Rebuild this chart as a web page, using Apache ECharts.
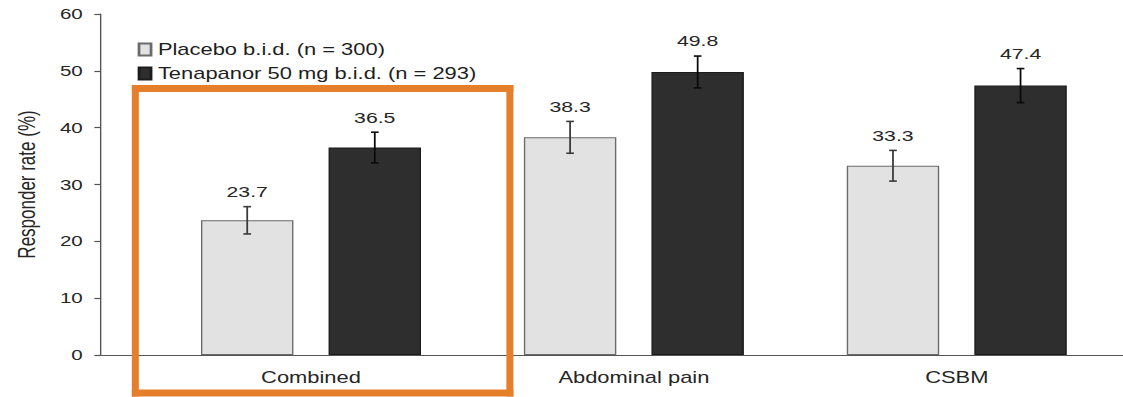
<!DOCTYPE html>
<html>
<head>
<meta charset="utf-8">
<script src="https://cdn.jsdelivr.net/npm/echarts@6/dist/echarts.min.js"></script>
<style>
  html, body { margin: 0; padding: 0; background: #ffffff; overflow: hidden; }
  /* chart is laid out narrower and widened horizontally to the page width */
  #chart { width: 820px; height: 397px; transform: scaleX(1.369512); transform-origin: 0 0; }
</style>
</head>
<body>
<div id="chart"></div>
<script>
// Responder rates (%) with standard errors per endpoint
const categories = ['Combined', 'Abdominal pain', 'CSBM'];
const placeboRate = [23.7, 38.3, 33.3];
const tenapanorRate = [36.5, 49.8, 47.4];
const placeboSE = [2.4, 2.8, 2.7];
const tenapanorSE = [2.7, 2.8, 3.0];
const seriesNames = ['Placebo b.i.d. (n = 300)', 'Tenapanor 50 mg b.i.d. (n = 293)'];
const yMin = 0, yMax = 60, yStep = 10;
const yAxisTitle = 'Responder rate (%)';

const SX = 1123 / 820;          // horizontal stretch of the page
const FONT = '"Liberation Sans", Arial, Helvetica, sans-serif';
const TEXT = '#262626';
const BAR_W = 67.5;
const BAR_GAP = 0.38;
const BAR_OFFSET = BAR_W * (1 + BAR_GAP) / 2;

function errorBars(side, stroke) {
  return function (params, api) {
    const i = api.value(0), v = api.value(1), e = api.value(2);
    const x = api.coord([i, v])[0] + side * BAR_OFFSET;
    const top = api.coord([i, v + e])[1];
    const bot = api.coord([i, v - e])[1];
    const cap = 2.8;
    return {
      type: 'group',
      children: [
        { type: 'line', shape: { x1: x, y1: top, x2: x, y2: bot }, style: { stroke: stroke, lineWidth: 1.3 } },
        { type: 'line', shape: { x1: x - cap, y1: top, x2: x + cap, y2: top }, style: { stroke: stroke, lineWidth: 1.6 } },
        { type: 'line', shape: { x1: x - cap, y1: bot, x2: x + cap, y2: bot }, style: { stroke: stroke, lineWidth: 1.6 } },
        { type: 'text', style: {
            text: v.toFixed(1), x: x, y: top - 7, align: 'center', verticalAlign: 'bottom',
            fontSize: 15.5, fontFamily: FONT, fill: TEXT } }
      ]
    };
  };
}

const chart = echarts.init(document.getElementById('chart'), null, { renderer: 'svg' });

chart.setOption({
  animation: false,
  backgroundColor: '#ffffff',
  textStyle: { fontFamily: FONT },
  grid: [
    { left: 73.4, right: 0, top: 14, bottom: 42 },
    { left: 109.2, right: 3.5, top: 14, bottom: 42 }
  ],
  legend: {
    data: seriesNames,
    orient: 'vertical',
    left: 100.5,
    top: 41.5,
    padding: 0,
    itemGap: 8,
    itemWidth: 8.8,
    itemHeight: 12,
    icon: 'rect',
    selectedMode: false,
    textStyle: { fontSize: 16, color: '#1e1e1e', lineHeight: 16, fontFamily: FONT }
  },
  xAxis: [
    {
      type: 'value', gridIndex: 0, min: 0, max: 1,
      axisLine: { show: true, lineStyle: { color: '#555555', width: 1.2 } },
      axisTick: { show: false }, axisLabel: { show: false }, splitLine: { show: false }
    },
    {
      type: 'category', gridIndex: 1, data: categories,
      axisLine: { show: false }, axisTick: { show: false }, splitLine: { show: false },
      axisLabel: { margin: 15, fontSize: 16, color: TEXT, fontFamily: FONT }
    }
  ],
  yAxis: [
    {
      type: 'value', gridIndex: 0, min: yMin, max: yMax, interval: yStep,
      name: yAxisTitle, nameLocation: 'middle', nameRotate: 90, nameGap: 45,
      nameTextStyle: { fontSize: 17, color: TEXT, fontFamily: FONT },
      axisLine: { show: true, lineStyle: { color: '#555555', width: 1 } },
      axisTick: { show: true, length: 4.5, lineStyle: { color: '#555555', width: 1.2 } },
      axisLabel: { margin: 13, fontSize: 15, color: TEXT, fontFamily: FONT },
      splitLine: { show: false }
    },
    { type: 'value', gridIndex: 1, min: yMin, max: yMax, show: false }
  ],
  series: [
    {
      name: seriesNames[0], type: 'bar', xAxisIndex: 1, yAxisIndex: 1,
      data: placeboRate, barWidth: BAR_W, barGap: (BAR_GAP * 100) + '%',
      itemStyle: { color: '#e2e2e2', borderColor: '#6a6a6a', borderWidth: 1 }
    },
    {
      name: seriesNames[1], type: 'bar', xAxisIndex: 1, yAxisIndex: 1,
      data: tenapanorRate, barWidth: BAR_W, barGap: (BAR_GAP * 100) + '%',
      itemStyle: { color: '#2e2e2e', borderColor: '#1c1c1c', borderWidth: 1 }
    },
    {
      type: 'custom', xAxisIndex: 1, yAxisIndex: 1, z: 5,
      renderItem: errorBars(-1, '#3a3a3a'),
      encode: { x: 0, y: 1 },
      data: categories.map((c, i) => [i, placeboRate[i], placeboSE[i]])
    },
    {
      type: 'custom', xAxisIndex: 1, yAxisIndex: 1, z: 5,
      renderItem: errorBars(1, '#0a0a0a'),
      encode: { x: 0, y: 1 },
      data: categories.map((c, i) => [i, tenapanorRate[i], tenapanorSE[i]])
    }
  ]
});

// Orange frame highlighting the combined endpoint
(function () {
  const finder = { xAxisIndex: 1, yAxisIndex: 1 };
  const c0 = chart.convertToPixel(finder, [0, 46.9]);
  const c1 = chart.convertToPixel(finder, [1, 46.9]);
  const cb = chart.convertToPixel(finder, [0, -6.7]);
  const band = c1[0] - c0[0];
  const left = c0[0] - 0.544 * band;
  const right = c0[0] + 0.616 * band;
  const top = c0[1];
  const bottom = cb[1];
  const t = 7;            // edge thickness on screen
  const tv = t / SX;      // vertical edges, before the horizontal stretch
  const fill = { fill: '#e57f2c' };
  chart.setOption({
    graphic: [
      { type: 'rect', z: 10, shape: { x: left - tv / 2, y: top - t / 2, width: right - left + tv, height: t }, style: fill },
      { type: 'rect', z: 10, shape: { x: left - tv / 2, y: bottom - t / 2, width: right - left + tv, height: t }, style: fill },
      { type: 'rect', z: 10, shape: { x: left - tv / 2, y: top - t / 2, width: tv, height: bottom - top + t }, style: fill },
      { type: 'rect', z: 10, shape: { x: right - tv / 2, y: top - t / 2, width: tv, height: bottom - top + t }, style: fill }
    ]
  });
})();
</script>
</body>
</html>
